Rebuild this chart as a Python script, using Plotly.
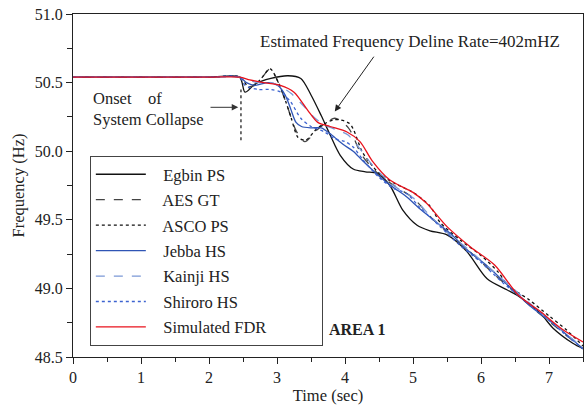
import plotly.graph_objects as go

# Frequency traces recorded at each station (time in s, frequency in Hz)
t_egbin = [0, 2.0, 2.45, 2.53, 2.68, 2.91, 3.16, 3.35, 3.5, 3.65, 3.78, 3.93, 4.12, 4.3, 4.47,
           4.66, 4.85, 5.06, 5.25, 5.5, 5.79, 6.09, 6.38, 6.53, 6.87, 7.06, 7.35, 7.5]
f_egbin = [50.54, 50.54, 50.54, 50.43, 50.49, 50.53, 50.55, 50.53, 50.41, 50.26, 50.12, 49.97, 49.87, 49.85, 49.84,
           49.75, 49.57, 49.46, 49.42, 49.39, 49.27, 49.07, 48.99, 48.95, 48.82, 48.71, 48.60, 48.56]

t_aes = [0, 2.0, 2.45, 2.6, 2.75, 2.9, 3.02, 3.15, 3.28, 3.41, 3.6, 3.85, 4.05, 4.25, 4.5, 4.75,
         5.0, 5.3, 5.6, 5.9, 6.2, 6.5, 6.8, 7.1, 7.5]
f_aes = [50.54, 50.54, 50.54, 50.47, 50.52, 50.60, 50.50, 50.33, 50.15, 50.07, 50.16, 50.24, 50.17, 49.97, 49.83, 49.74,
         49.66, 49.50, 49.37, 49.24, 49.10, 48.97, 48.84, 48.72, 48.56]

t_asco = [0, 2.0, 2.45, 2.6, 2.75, 2.9, 3.02, 3.13, 3.21, 3.31, 3.42, 3.6, 3.85, 4.07, 4.26, 4.5,
          4.75, 5.0, 5.25, 5.4, 5.7, 6.0, 6.25, 6.4, 6.7, 7.0, 7.25, 7.5]
f_asco = [50.54, 50.54, 50.54, 50.46, 50.52, 50.60, 50.50, 50.36, 50.24, 50.10, 50.08, 50.17, 50.23, 50.20, 49.99, 49.84,
          49.76, 49.70, 49.60, 49.48, 49.35, 49.24, 49.12, 49.02, 48.92, 48.80, 48.70, 48.58]

t_jebba = [0, 2.0, 2.45, 2.55, 2.68, 2.87, 3.01, 3.12, 3.2, 3.28, 3.36, 3.5, 3.65, 3.8, 3.97, 4.12,
           4.26, 4.5, 4.7, 4.9, 5.1, 5.3, 5.55, 5.8, 6.1, 6.4, 6.75, 7.05, 7.5]
f_jebba = [50.54, 50.54, 50.54, 50.50, 50.48, 50.50, 50.48, 50.41, 50.31, 50.21, 50.18, 50.17, 50.17, 50.12, 50.05, 50.00,
           49.93, 49.82, 49.74, 49.67, 49.58, 49.50, 49.40, 49.28, 49.16, 49.02, 48.86, 48.75, 48.56]

t_kainji = [0, 2.0, 2.45, 2.55, 2.72, 2.91, 3.06, 3.21, 3.41, 3.56, 3.71, 3.9, 4.04, 4.2, 4.4, 4.6,
            4.8, 5.0, 5.25, 5.5, 5.8, 6.1, 6.4, 6.7, 7.0, 7.5]
f_kainji = [50.54, 50.54, 50.54, 50.52, 50.50, 50.50, 50.47, 50.42, 50.32, 50.24, 50.19, 50.15, 50.12, 50.03, 49.90, 49.80,
            49.72, 49.66, 49.53, 49.41, 49.29, 49.16, 49.03, 48.90, 48.77, 48.57]

t_shiroro = [0, 2.0, 2.45, 2.53, 2.72, 2.91, 3.06, 3.2, 3.35, 3.5, 3.7, 3.85, 4.0, 4.12, 4.26, 4.5,
             4.71, 4.91, 5.1, 5.4, 5.7, 6.0, 6.3, 6.6, 6.9, 7.2, 7.5]
f_shiroro = [50.54, 50.54, 50.54, 50.48, 50.45, 50.45, 50.43, 50.36, 50.24, 50.18, 50.14, 50.09, 50.07, 50.03, 49.94, 49.81,
             49.73, 49.69, 49.59, 49.45, 49.31, 49.19, 49.05, 48.93, 48.81, 48.68, 48.56]

t_fdr = [0, 2.0, 2.45, 2.6, 2.8, 3.05, 3.25, 3.45, 3.6, 3.78, 4.03, 4.22, 4.4, 4.66, 5.0, 5.2,
         5.5, 5.85, 6.2, 6.55, 6.85, 7.2, 7.5]
f_fdr = [50.54, 50.54, 50.54, 50.52, 50.50, 50.48, 50.43, 50.30, 50.21, 50.18, 50.14, 50.07, 49.93, 49.79, 49.70, 49.62,
         49.45, 49.30, 49.17, 48.95, 48.84, 48.70, 48.61]

names = ["Egbin PS", "AES GT", "ASCO PS", "Jebba HS", "Kainji HS", "Shiroro HS", "Simulated FDR"]
times = [t_egbin, t_aes, t_asco, t_jebba, t_kainji, t_shiroro, t_fdr]
freqs = [f_egbin, f_aes, f_asco, f_jebba, f_kainji, f_shiroro, f_fdr]
colors = ["#111111", "#444444", "#111111", "#2f55b5", "#7b98d6", "#3d63d0", "#e8121c"]
dashes = ["solid", "dash", "dot", "solid", "dash", "dot", "solid"]

x_ticks = [0, 1, 2, 3, 4, 5, 6, 7]
y_ticks = [48.5, 49.0, 49.5, 50.0, 50.5, 51.0]

FONT = "Liberation Serif"
TXT = "#222222"

fig = go.Figure()
for i, (n, t, f, c, d) in enumerate(zip(names, times, freqs, colors, dashes)):
    fig.add_trace(go.Scatter(
        x=t, y=f, name="\u2002 " + n + "\u2003\u2003\u2003", mode="lines",
        line=dict(color=c, dash=d, width=1.3, shape="spline", smoothing=0.8),
        legendgroup=f"g{i}",
    ))

# dotted marker at the onset of collapse
fig.add_shape(type="line", x0=2.47, x1=2.47, y0=50.08, y1=50.45,
              line=dict(color="#111111", width=1.2, dash="dot"), layer="above")

fig.add_annotation(x=4.96, y=50.80, text="Estimated Frequency Deline Rate=402mHZ",
                   showarrow=False, font=dict(family=FONT, size=17, color=TXT))
fig.add_annotation(x=3.85, y=50.29, ax=4.44, ay=50.70, axref="x", ayref="y", text="",
                   showarrow=True, arrowhead=2, arrowsize=1.3, arrowwidth=1, arrowcolor="#222222")
fig.add_annotation(x=0.26, y=50.31, text="Onset\u00a0\u00a0\u00a0\u00a0of<br>System Collapse",
                   showarrow=False, font=dict(family=FONT, size=16.5, color=TXT),
                   align="left", xanchor="left")
fig.add_annotation(x=2.43, y=50.32, ax=2.0, ay=50.32, axref="x", ayref="y", text="",
                   showarrow=True, arrowhead=2, arrowsize=1.3, arrowwidth=1, arrowcolor="#333333")
fig.add_annotation(x=4.18, y=48.70, text="<b>AREA 1</b>", showarrow=False,
                   font=dict(family=FONT, size=16, color=TXT))

axis_common = dict(showline=True, linecolor="#222222", linewidth=1, mirror=True,
                   ticks="outside", ticklen=6, tickcolor="#222222", showgrid=False,
                   zeroline=False, tickfont=dict(family=FONT, size=16, color=TXT))

fig.update_xaxes(range=[0, 7.5], tickvals=x_ticks,
                 minor=dict(ticks="outside", ticklen=4, dtick=0.5, tick0=0, tickcolor="#222222"),
                 title=dict(text="Time (sec)", font=dict(family=FONT, size=16.5, color=TXT), standoff=1),
                 **axis_common)
fig.update_yaxes(range=[48.5, 51.0], tickvals=y_ticks, tickformat=".1f",
                 minor=dict(ticks="outside", ticklen=5, dtick=0.25, tick0=48.5, tickcolor="#222222"),
                 title=dict(text="Frequency (Hz)", font=dict(family=FONT, size=16.5, color=TXT), standoff=6),
                 **axis_common)

fig.update_layout(
    width=584, height=409,
    margin=dict(l=73, r=1, t=14, b=52),
    plot_bgcolor="white", paper_bgcolor="white",
    font=dict(family=FONT, size=16, color=TXT),
    legend=dict(x=0.033, y=0.586, xanchor="left", yanchor="top",
                bordercolor="#444444", borderwidth=1, bgcolor="white",
                itemwidth=50, tracegroupgap=1, traceorder="grouped",
                font=dict(family=FONT, size=16.5, color=TXT)),
    showlegend=True,
)

fig.write_html("out.html")
